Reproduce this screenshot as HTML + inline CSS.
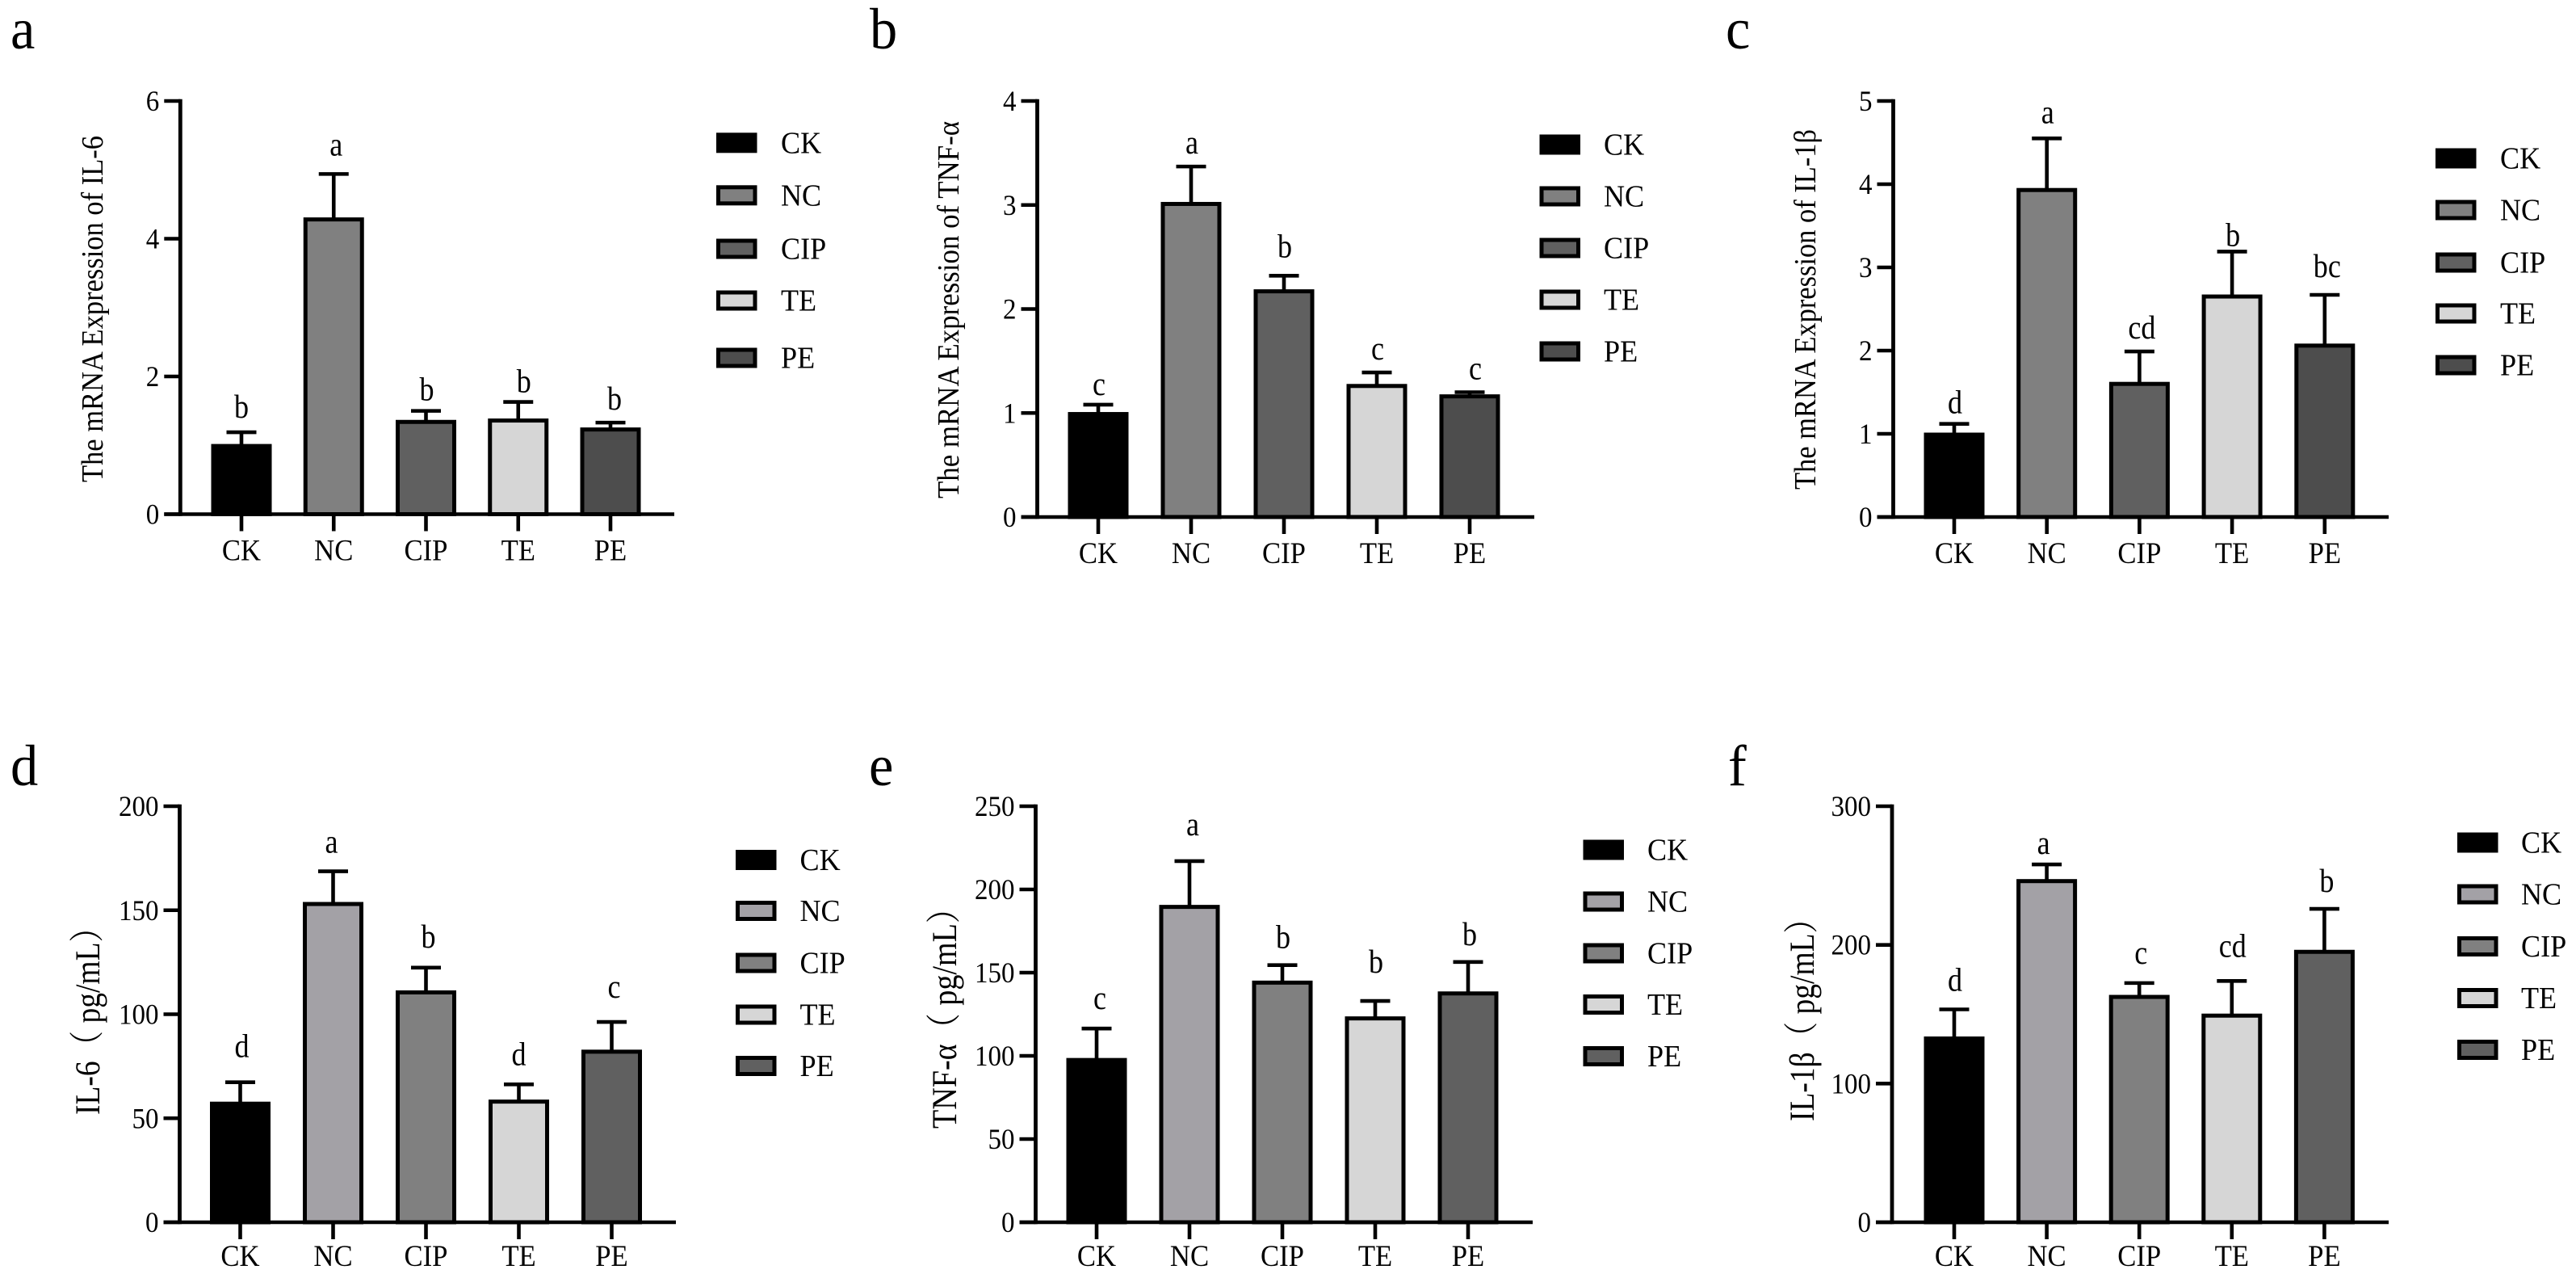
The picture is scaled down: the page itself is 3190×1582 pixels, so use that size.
<!DOCTYPE html>
<html lang="en">
<head>
<meta charset="utf-8">
<title>mRNA and cytokine expression panels</title>
<style>
  html, body { margin: 0; padding: 0; background: #fff; }
  svg { display: block; }
  text { font-family: "Liberation Serif", "Noto Serif CJK SC", serif; fill: #000; }
</style>
</head>
<body>
<svg id="figure" xmlns="http://www.w3.org/2000/svg" width="3190" height="1582" viewBox="0 0 3190 1582">
  <rect x="0" y="0" width="3190" height="1582" fill="#ffffff"/>
</svg>
<script>
// Shared categories
const categories = ['CK', 'NC', 'CIP', 'TE', 'PE'];

// Panel a
const aMeans = [0.99, 4.28, 1.34, 1.36, 1.23];
const aErrors = [0.20, 0.66, 0.16, 0.27, 0.10];
const aLetters = ['b', 'a', 'b', 'b', 'b'];
const aTicks = ['0', '2', '4', '6'];

// Panel b
const bMeans = [0.99, 3.01, 2.17, 1.26, 1.16];
const bErrors = [0.09, 0.36, 0.15, 0.13, 0.04];
const bLetters = ['c', 'a', 'b', 'c', 'c'];
const bTicks = ['0', '1', '2', '3', '4'];

// Panel c
const cMeans = [0.99, 3.93, 1.60, 2.65, 2.06];
const cErrors = [0.13, 0.62, 0.39, 0.54, 0.61];
const cLetters = ['d', 'a', 'cd', 'b', 'bc'];
const cTicks = ['0', '1', '2', '3', '4', '5'];

// Panel d
const dMeans = [57, 153, 110.5, 58, 82];
const dErrors = [10.3, 15.7, 11.9, 8.3, 14.3];
const dLetters = ['d', 'a', 'b', 'd', 'c'];
const dTicks = ['0', '50', '100', '150', '200'];

// Panel e
const eMeans = [97.5, 189.5, 144, 122.5, 137.5];
const eErrors = [18.9, 27.5, 10.5, 10.5, 18.9];
const eLetters = ['c', 'a', 'b', 'b', 'b'];
const eTicks = ['0', '50', '100', '150', '200', '250'];

// Panel f
const fMeans = [132.5, 246, 162.5, 149, 195];
const fErrors = [21, 12, 10, 25, 31];
const fLetters = ['d', 'a', 'c', 'cd', 'b'];
const fTicks = ['0', '100', '200', '300'];

const greysTop = ['#000000', '#808080', '#606060', '#d6d6d6', '#4d4d4d'];
const greysBottom = ['#000000', '#a3a1a6', '#808080', '#d6d6d6', '#606060'];

const panels = [
  { id: 'a', means: aMeans, errors: aErrors, letters: aLetters, ticks: aTicks, colors: greysTop,
    title: 'The mRNA Expression of IL-6', titleX: 127, titleY: 597, titleLen: 429, titleSize: 38,
    labelX: 13, labelY: 60, axisX: 223.3, top: 125, base: 636.5, end: 835, first: 299, step: 114.25, labelGap: 57,
    legX: 887, legText: 967, legY: [176.8, 241.8, 308, 372, 443],
    dx: [0, 3, 1, 7, 5], gap: [18, 23, 13, 12, 16] },
  { id: 'b', means: bMeans, errors: bErrors, letters: bLetters, ticks: bTicks, colors: greysTop,
    title: 'The mRNA Expression of TNF-\u03b1', titleX: 1187, titleY: 617, titleLen: 467, titleSize: 38,
    labelX: 1077, labelY: 60, axisX: 1284.5, top: 125, base: 640, end: 1900, first: 1360, step: 115, labelGap: 57,
    legX: 1906.5, legText: 1986, legY: [179, 243, 307, 371, 435],
    dx: [1, 1, 1, 1, 7], gap: [12, 16, 23, 16, 16] },
  { id: 'c', means: cMeans, errors: cErrors, letters: cLetters, ticks: cTicks, colors: greysTop,
    title: 'The mRNA Expression of IL-1\u03b2', titleX: 2248, titleY: 606, titleLen: 446, titleSize: 38,
    labelX: 2137, labelY: 60, axisX: 2344.5, top: 125, base: 640, end: 2958, first: 2420, step: 114.7, labelGap: 57,
    legX: 3016, legText: 3096, legY: [196, 260, 325, 388, 452],
    dx: [1, 1, 3, 1, 3], gap: [13, 19, 16, 7, 22] },
  { id: 'd', means: dMeans, errors: dErrors, letters: dLetters, ticks: dTicks, colors: greysBottom,
    title: 'IL-6\uff08 pg/mL\uff09', titleX: 123, titleY: 1380, titleLen: 251, titleSize: 43,
    labelX: 13, labelY: 972, axisX: 222.5, top: 998, base: 1513, end: 837, first: 297.5, step: 115, labelGap: 54,
    legX: 911, legText: 990.5, legY: [1064.5, 1127.5, 1192, 1256, 1319.5],
    dx: [2, -2, 3, 0, 3], gap: [31, 23, 25, 24, 30] },
  { id: 'e', means: eMeans, errors: eErrors, letters: eLetters, ticks: eTicks, colors: greysBottom,
    title: 'TNF-\u03b1\uff08 pg/mL\uff09', titleX: 1184, titleY: 1397, titleLen: 292, titleSize: 43,
    labelX: 1076, labelY: 972, axisX: 1282.5, top: 998, base: 1513, end: 1898, first: 1358, step: 115, labelGap: 54,
    legX: 1960.5, legText: 2040, legY: [1052, 1116, 1180, 1243.5, 1307.5],
    dx: [4, 4, 1, 1, 2], gap: [24, 32, 21, 35, 21] },
  { id: 'f', means: fMeans, errors: fErrors, letters: fLetters, ticks: fTicks, colors: greysBottom,
    title: 'IL-1\u03b2\uff08 pg/mL\uff09', titleX: 2246, titleY: 1388, titleLen: 270, titleSize: 43,
    labelX: 2140, labelY: 972, axisX: 2343, top: 998, base: 1513, end: 2958, first: 2420, step: 114.6, labelGap: 54,
    legX: 3043, legText: 3122, legY: [1043, 1107, 1171.5, 1235.5, 1299.5],
    dx: [1, -4, 2, 1, 3], gap: [23, 13, 24, 30, 21] }
];

const SVG_NS = 'http://www.w3.org/2000/svg';
const figure = document.getElementById('figure');

function make(tag, parent, props, content) {
  const node = document.createElementNS(SVG_NS, tag);
  for (const key in props) node.setAttribute(key, props[key]);
  if (content !== undefined) node.textContent = content;
  parent.appendChild(node);
  return node;
}

function placed(x, y, sx) {
  return 'translate(' + x + ',' + y + ') scale(' + sx + ',1)';
}

function drawPanel(p) {
  const group = make('g', figure, {});
  
  

  const maxValue = parseFloat(p.ticks[p.ticks.length - 1]);
  const yScale = function (v) { return p.base - (v / maxValue) * (p.base - p.top); };
  const xScale = function (i) { return p.first + i * p.step; };

  const panelLabel = make('text', group, { transform: placed(p.labelX, p.labelY, 0.95), 'font-size': 72 }, p.id);
  
  

  const title = make('text', group, {
    transform: 'translate(' + p.titleX + ',' + p.titleY + ') rotate(-90)',
    'text-anchor': 'start', 'font-size': p.titleSize,
    textLength: p.titleLen, lengthAdjust: 'spacingAndGlyphs'
  }, p.title);
  
  

  // bars, error bars and significance letters
  for (let i = 0; i < categories.length; i++) {
    const cx = xScale(i);
    const barTop = yScale(p.means[i]);
    const errTop = yScale(p.means[i] + p.errors[i]);

    const whisker = make('line', group, { x1: cx, x2: cx, y1: barTop, y2: errTop, stroke: '#000', 'stroke-width': 4.6 });
    
    

    const cap = make('line', group, { x1: cx - 18.5, x2: cx + 18.5, y1: errTop, y2: errTop, stroke: '#000', 'stroke-width': 4.6 });
    
    

    const bar = make('rect', group, {
      x: cx - 35, y: barTop, width: 70, height: p.base - barTop,
      fill: p.colors[i], stroke: '#000', 'stroke-width': 5
    });
    
    

    const letter = make('text', group, {
      transform: placed(cx + p.dx[i], errTop - p.gap[i], 0.88), 'text-anchor': 'middle', 'font-size': 41
    }, p.letters[i]);
    
    

    const xTick = make('line', group, { x1: cx, x2: cx, y1: p.base, y2: p.base + 21, stroke: '#000', 'stroke-width': 4.6 });
    
    

    const xLabel = make('text', group, {
      transform: placed(cx, p.base + p.labelGap, 0.95), 'text-anchor': 'middle', 'font-size': 36.5
    }, categories[i]);
    
    
  }

  // axes
  const yAxis = make('line', group, { x1: p.axisX, x2: p.axisX, y1: p.top - 2.3, y2: p.base + 2.3, stroke: '#000', 'stroke-width': 4.8 });
  
  

  const xAxis = make('line', group, { x1: p.axisX - 20, x2: p.end, y1: p.base, y2: p.base, stroke: '#000', 'stroke-width': 4.6 });
  
  

  for (let t = 0; t < p.ticks.length; t++) {
    const ty = yScale(parseFloat(p.ticks[t]));

    const yTick = make('line', group, { x1: p.axisX - 20, x2: p.axisX, y1: ty, y2: ty, stroke: '#000', 'stroke-width': 4.6 });
    
    

    const yLabel = make('text', group, {
      transform: placed(p.axisX - 26, ty + 12, 0.93), 'text-anchor': 'end', 'font-size': 35.5
    }, p.ticks[t]);
    
    
  }

  // legend
  for (let k = 0; k < categories.length; k++) {
    const swatch = make('rect', group, {
      x: p.legX + 2.5, y: p.legY[k] - 10, width: 45.5, height: 20,
      fill: p.colors[k], stroke: '#000', 'stroke-width': 5
    });
    
    

    const entry = make('text', group, {
      transform: placed(p.legText, p.legY[k] + 12.5, 0.95), 'font-size': 38
    }, categories[k]);
    
    
  }
}

panels.forEach(drawPanel);
</script>
</body>
</html>
